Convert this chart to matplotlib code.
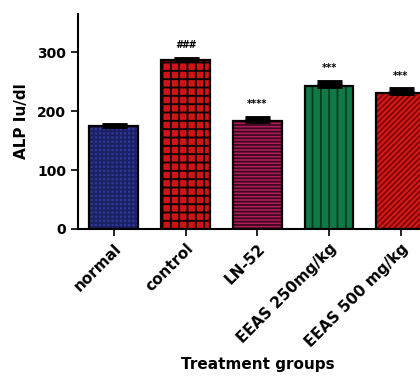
import matplotlib
matplotlib.use("Agg")
import matplotlib.pyplot as plt
import numpy as np

categories = ["normal", "control", "LN-52", "EEAS 250mg/kg", "EEAS 500 mg/kg"]
values = [174, 286, 183, 243, 231]
errors = [2, 3, 6, 7, 7]
marks = ["", "###", "****", "***", "***"]

face_colors = ["#2e3796", "#d01414", "#b41a5c", "#0f7a45", "#d81818"]
hatch_colors = ["#1a2060", "#000000", "#3a0a1e", "#063a20", "#7a0808"]
hatches = ["++++", "++", "-----", "||", "//////"]

plt.rcParams["hatch.linewidth"] = 1.3
fig = plt.figure(figsize=(4.2, 3.77), dpi=100)
ax = fig.add_axes([0.1857, 0.3926, 0.854, 0.5704])

x = np.arange(len(categories))
for i in range(len(categories)):
    ax.bar(x[i], values[i], width=0.68, color=face_colors[i],
           edgecolor=hatch_colors[i], hatch=hatches[i], linewidth=0, zorder=2)
    ax.bar(x[i], values[i], width=0.68, fill=False, edgecolor="black",
           linewidth=1.6, zorder=3)
ax.errorbar(x, values, yerr=[np.zeros(len(values)), errors], fmt="none",
            ecolor="black", elinewidth=2, capsize=9, capthick=3.5, zorder=4)

for i, m in enumerate(marks):
    if m:
        ax.text(x[i], values[i] + errors[i] + 14, m, ha="center", va="bottom",
                fontsize=7, fontweight="bold", fontstyle="italic")

ax.set_xlim(-0.5, 4.5)
ax.set_ylim(0, 365)
ax.set_yticks([0, 100, 200, 300])
ax.set_xticks(x)
ax.set_xticklabels(categories, rotation=45, ha="right", rotation_mode="anchor",
                   fontsize=11, fontweight="bold")
for lab in ax.get_yticklabels():
    lab.set_fontsize(10)
    lab.set_fontweight("bold")
ax.tick_params(axis="both", direction="out", length=5, width=1.2)
ax.spines["top"].set_visible(False)
ax.spines["right"].set_visible(False)
ax.spines["left"].set_linewidth(1.5)
ax.spines["bottom"].set_linewidth(1.5)
ax.set_ylabel("ALP Iu/dl", fontsize=11, fontweight="bold", labelpad=6)
ax.set_xlabel("Treatment groups", fontsize=11, fontweight="bold", labelpad=5)

fig.savefig("out.png", dpi=100)
